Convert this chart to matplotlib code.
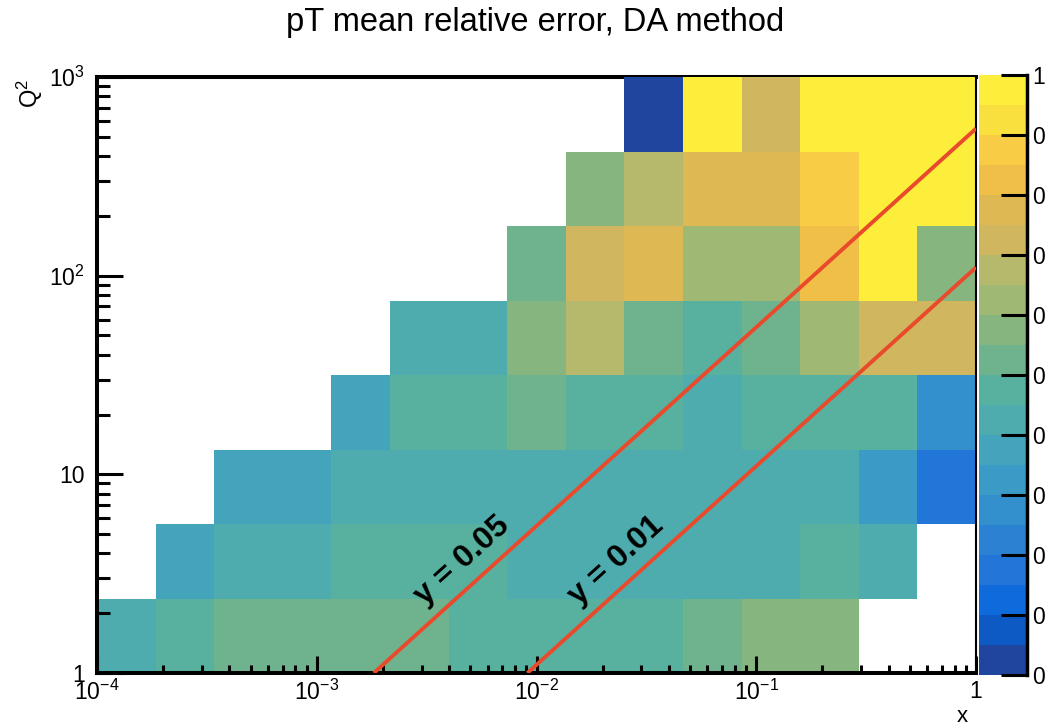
import numpy as np
import matplotlib
matplotlib.use("Agg")
import matplotlib.pyplot as plt
from matplotlib.colors import ListedColormap, BoundaryNorm
from matplotlib.ticker import LogLocator, NullFormatter, FixedLocator, FixedFormatter

plt.rcParams['font.family'] = ['Liberation Sans', 'DejaVu Sans']
plt.rcParams['mathtext.fontset'] = 'custom'
plt.rcParams['mathtext.rm'] = 'Liberation Sans'
plt.rcParams['mathtext.it'] = 'Liberation Sans:italic'
plt.rcParams['mathtext.bf'] = 'Liberation Sans:bold'

# ---------------- data ----------------
title = "pT mean relative error, DA method"
x_edges = np.logspace(-4, 0, 16)        # 15 log bins in x
q2_edges = np.logspace(0, 3, 9)         # 8 log bins in Q^2
nan = np.nan
# rows: Q^2 bins from bottom to top; columns: x bins left to right
row0 = [0.43, 0.47, 0.52, 0.52, 0.52, 0.52, 0.47, 0.47, 0.47, 0.47, 0.52, 0.57, 0.57, nan, nan]
row1 = [nan, 0.38, 0.43, 0.43, 0.47, 0.47, 0.47, 0.43, 0.43, 0.43, 0.43, 0.43, 0.47, 0.43, nan]
row2 = [nan, nan, 0.38, 0.38, 0.43, 0.43, 0.43, 0.43, 0.43, 0.43, 0.43, 0.43, 0.43, 0.34, 0.18]
row3 = [nan, nan, nan, nan, 0.38, 0.47, 0.47, 0.52, 0.47, 0.47, 0.43, 0.47, 0.47, 0.47, 0.28]
row4 = [nan, nan, nan, nan, nan, 0.43, 0.43, 0.57, 0.68, 0.52, 0.47, 0.52, 0.62, 0.72, 0.72]
row5 = [nan, nan, nan, nan, nan, nan, nan, 0.52, 0.72, 0.78, 0.62, 0.62, 0.82, 0.98, 0.57]
row6 = [nan, nan, nan, nan, nan, nan, nan, nan, 0.57, 0.68, 0.78, 0.78, 0.88, 0.98, 0.98]
row7 = [nan, nan, nan, nan, nan, nan, nan, nan, nan, 0.03, 0.98, 0.72, 0.98, 0.98, 0.98]

palette = ['#1f459e', '#0d5ac4', '#0f6bdb', '#2276d8', '#2c82d2', '#348fcd', '#3c9ac6',
           '#44a4bc', '#4eacaf', '#58b09f', '#6eb38e', '#86b57f', '#9fb874', '#b6b86b',
           '#cfb65f', '#deb852', '#f0bf48', '#f8cc45', '#f9e03e', '#fcee3a']
cbar_ticks = [0.0, 0.1, 0.2, 0.3, 0.4, 0.5, 0.6, 0.7, 0.8, 0.9, 1.0]
cbar_labels = ['0', '0.1', '0.2', '0.3', '0.4', '0.5', '0.6', '0.7', '0.8', '0.9', '1']

y_lines = [0.05, 0.01]
y_labels = ["y = 0.05", "y = 0.01"]
label_x = [0.0046, 0.0230]
s_cm = 4 * 10 * 275   # e-p beam energies 10 x 275 GeV

# ---------------- figure ----------------
W, H = 1045, 723
fig = plt.figure(figsize=(W / 100, H / 100), dpi=100)
ax = fig.add_axes([97 / W, 1 - 673 / H, 879 / W, 596 / H])

Z = np.ma.masked_invalid(np.array([row0, row1, row2, row3, row4, row5, row6, row7]))
cmap = ListedColormap(palette)
cmap.set_over(palette[-1])
norm = BoundaryNorm(np.linspace(0, 1, 21), 20)
mesh = ax.pcolormesh(x_edges, q2_edges, Z, cmap=cmap, norm=norm, zorder=3)

ax.set_xscale('log')
ax.set_yscale('log')
ax.set_xlim(1e-4, 1)
ax.set_ylim(1, 1000)

ax.xaxis.set_major_locator(FixedLocator([1e-4, 1e-3, 1e-2, 1e-1, 1]))
ax.xaxis.set_major_formatter(FixedFormatter([r'$10^{-4}$', r'$10^{-3}$', r'$10^{-2}$', r'$10^{-1}$', '1']))
ax.yaxis.set_major_locator(FixedLocator([1, 10, 100, 1000]))
ax.yaxis.set_major_formatter(FixedFormatter(['1', '10', r'$10^{2}$', r'$10^{3}$']))
ax.xaxis.set_minor_locator(LogLocator(base=10, subs=np.arange(2, 10), numticks=20))
ax.yaxis.set_minor_locator(LogLocator(base=10, subs=np.arange(2, 10), numticks=20))
ax.xaxis.set_minor_formatter(NullFormatter())
ax.yaxis.set_minor_formatter(NullFormatter())

ax.tick_params(axis='x', which='major', direction='in', length=12, width=2.2, labelsize=16.5, pad=5,
               top=False)
ax.tick_params(axis='x', which='minor', direction='in', length=6, width=2.2, top=False)
ax.tick_params(axis='y', which='major', direction='in', length=19, width=2.2, labelsize=16.5, pad=9,
               right=False)
ax.tick_params(axis='y', which='minor', direction='in', length=9.5, width=2.2, right=False)
ax.xaxis.set_zorder(5)
ax.yaxis.set_zorder(5)

for side in ['left', 'bottom']:
    ax.spines[side].set_linewidth(2.9)
    ax.spines[side].set_zorder(6)
ax.spines['top'].set_linewidth(2.9)
ax.spines['top'].set_zorder(2)
ax.spines['right'].set_linewidth(1.5)
ax.spines['right'].set_zorder(6)

# constant-inelasticity lines
p1 = ax.transData.transform((1e-3, 1.0))
p2 = ax.transData.transform((1e-2, 10.0))
ang = np.degrees(np.arctan2(p2[1] - p1[1], p2[0] - p1[0]))
for yv, lab, lx in zip(y_lines, y_labels, label_x):
    xs = np.logspace(np.log10(1.0 / (yv * s_cm)), 0, 200)
    ax.plot(xs, yv * s_cm * xs, color='#e94a2b', lw=2.8, zorder=7, solid_capstyle='butt')
    ax.text(lx, yv * s_cm * lx * 1.45, lab, rotation=ang, rotation_mode='anchor',
            ha='center', va='center', fontsize=23, fontweight='bold', color='black', zorder=8)

fig.text(535 / W, 1 - 22 / H, title, ha='center', va='center', fontsize=23.5)
fig.text(30 / W, 1 - 79 / H, r'$\mathrm{Q}^{2}$', rotation=90, ha='center', va='top', fontsize=17)
fig.text(962 / W, 1 - 716 / H, 'x', ha='center', va='center', fontsize=16)

# colour bar
cax = fig.add_axes([979 / W, 1 - 675 / H, 48 / W, 600 / H])
cb = fig.colorbar(mesh, cax=cax, ticks=cbar_ticks)
cb.ax.set_yticklabels(cbar_labels)
cb.outline.set_visible(False)
cax.spines['right'].set_visible(True)
cax.spines['right'].set_linewidth(2.5)
cax.spines['right'].set_color('black')
cax.tick_params(axis='y', which='both', direction='in', length=19, width=2.2, labelsize=16.5, pad=4)
cax.minorticks_off()

fig.savefig('out.png', dpi=100)
